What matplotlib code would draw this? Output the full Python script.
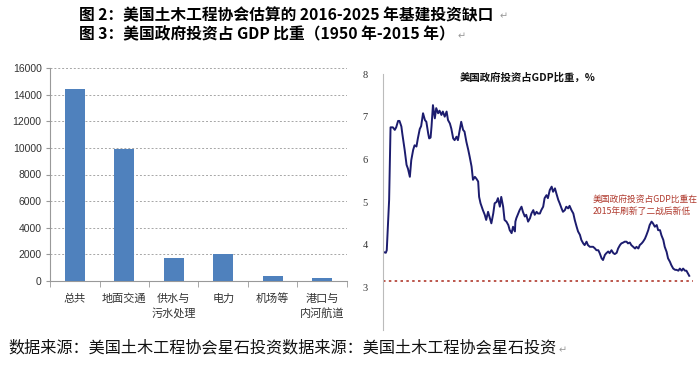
import matplotlib
matplotlib.use('Agg')
import matplotlib.pyplot as plt
import numpy as np

plt.rcParams['font.family'] = ['Noto Sans CJK SC', 'DejaVu Sans']

# ---- left chart: infrastructure gap ----
categories = ['总共', '地面交通', '供水与\n污水处理', '电力', '机场等', '港口与\n内河航道']
gap_values = [14400, 9950, 1750, 2000, 400, 200]
y_ticks_left = [0, 2000, 4000, 6000, 8000, 10000, 12000, 14000, 16000]

# ---- right chart: gov investment share of GDP ----
years = [1950.0, 1950.6, 1950.8, 1951.3, 1951.6, 1952.1, 1952.5, 1952.8, 1953.2, 1953.5,
         1953.9, 1954.1, 1954.6, 1955.0, 1955.3, 1955.7, 1956.0, 1956.4, 1956.7, 1957.1,
         1957.4, 1957.8, 1958.1, 1958.5, 1958.9, 1959.2, 1959.6, 1959.8, 1960.1, 1960.3,
         1960.6, 1961.0, 1961.3, 1961.7, 1962.0, 1962.4, 1962.7, 1963.1, 1963.5, 1963.8,
         1964.2, 1964.5, 1964.9, 1965.2, 1965.6, 1965.9, 1966.3, 1966.6, 1967.0, 1967.3,
         1967.7, 1968.1, 1968.4, 1968.8, 1969.1, 1969.5, 1969.8, 1970.2, 1970.4, 1970.7,
         1971.2, 1971.6, 1971.9, 1972.3, 1972.7, 1973.0, 1973.4, 1973.7, 1974.1, 1974.4,
         1974.8, 1975.1, 1975.5, 1975.8, 1976.2, 1976.6, 1976.9, 1977.3, 1977.6, 1978.0,
         1978.1, 1978.3, 1978.7, 1979.0, 1979.4, 1979.7, 1980.1, 1980.4, 1980.8, 1981.2,
         1981.5, 1981.9, 1982.2, 1982.6, 1982.9, 1983.3, 1983.6, 1984.0, 1984.3, 1984.7,
         1985.0, 1985.4, 1985.8, 1986.1, 1986.5, 1986.8, 1987.2, 1987.5, 1987.9, 1988.2,
         1988.6, 1988.9, 1989.3, 1989.6, 1990.0, 1990.4, 1990.7, 1991.1, 1991.4, 1991.8,
         1992.1, 1992.5, 1992.8, 1993.2, 1993.5, 1993.9, 1994.2, 1994.6, 1995.0, 1995.3,
         1995.7, 1996.0, 1996.4, 1996.7, 1997.1, 1997.4, 1997.8, 1998.1, 1998.5, 1998.9,
         1999.2, 1999.6, 1999.9, 2000.3, 2000.6, 2001.0, 2001.3, 2001.7, 2002.0, 2002.4,
         2002.7, 2003.1, 2003.5, 2003.8, 2004.2, 2004.5, 2004.9, 2005.2, 2005.6, 2005.9,
         2006.3, 2006.6, 2007.0, 2007.3, 2007.7, 2008.1, 2008.4, 2008.8, 2009.1, 2009.5,
         2009.8, 2010.2, 2010.5, 2010.9, 2011.2, 2011.6, 2012.0, 2012.3, 2012.7, 2013.0,
         2013.4, 2013.7, 2014.1, 2014.4, 2014.6, 2015.0]
share = [3.83, 3.81, 3.87, 5.05, 6.75, 6.75, 6.69, 6.75, 6.90, 6.90,
         6.77, 6.60, 6.22, 5.87, 5.78, 5.59, 5.98, 6.22, 6.33, 6.30,
         6.49, 6.71, 6.78, 7.08, 6.92, 6.88, 6.60, 6.49, 6.51, 6.77,
         7.27, 6.96, 7.20, 7.08, 7.14, 7.04, 7.12, 7.00, 7.12, 6.92,
         6.84, 6.72, 6.49, 6.45, 6.53, 6.45, 6.69, 6.88, 6.69, 6.65,
         6.41, 6.22, 6.06, 5.83, 5.52, 5.59, 5.55, 5.48, 5.12, 4.97,
         4.81, 4.70, 4.58, 4.77, 4.62, 4.50, 4.73, 4.97, 5.00, 5.09,
         4.89, 5.12, 4.89, 4.58, 4.54, 4.46, 4.34, 4.27, 4.42, 4.31,
         4.54, 4.62, 4.73, 4.81, 4.89, 4.77, 4.66, 4.70, 4.54, 4.62,
         4.73, 4.81, 4.70, 4.77, 4.73, 4.73, 4.81, 4.89, 5.09, 5.16,
         5.09, 5.28, 5.36, 5.24, 5.32, 5.20, 5.05, 4.97, 4.85, 4.77,
         4.81, 4.89, 4.85, 4.91, 4.81, 4.73, 4.58, 4.42, 4.31, 4.23,
         4.11, 4.03, 3.99, 4.07, 3.99, 3.95, 3.95, 3.95, 3.91, 3.87,
         3.87, 3.80, 3.68, 3.64, 3.76, 3.80, 3.84, 3.80, 3.87, 3.80,
         3.78, 3.81, 3.91, 3.99, 4.03, 4.05, 4.07, 4.07, 4.03, 4.05,
         3.99, 3.95, 3.91, 3.95, 3.91, 3.99, 4.03, 4.07, 4.14, 4.22,
         4.34, 4.46, 4.54, 4.50, 4.42, 4.46, 4.34, 4.34, 4.22, 4.11,
         3.95, 3.83, 3.68, 3.60, 3.52, 3.44, 3.41, 3.41, 3.39, 3.44,
         3.39, 3.44, 3.39, 3.39, 3.35, 3.27]
low_line = 3.15
y_ticks_right = [3, 4, 5, 6, 7, 8]

W, H = 700, 367
fig = plt.figure(figsize=(7, 3.67), dpi=100)

def box(x0, y0, x1, y1):
    return [x0 / W, 1 - y1 / H, (x1 - x0) / W, (y1 - y0) / H]

# left bar chart
ax = fig.add_axes(box(50, 68, 347, 281))
x = np.arange(len(categories))
ax.bar(x, gap_values, width=0.4, color='#4F81BD', zorder=3)
ax.set_xlim(-0.5, len(categories) - 0.5)
ax.set_ylim(0, 16000)
ax.set_yticks(y_ticks_left)
ax.set_yticklabels([str(v) for v in y_ticks_left], family=['Liberation Sans', 'DejaVu Sans'], fontsize=7.5, color='#333333')
ax.set_xticks(x)
ax.set_xticklabels(categories, fontsize=8, color='#333333', linespacing=1.5, va='top')
ax.set_xticks(np.arange(len(categories) + 1) - 0.5, minor=True)
ax.tick_params(axis='x', which='major', length=0, pad=9)
ax.tick_params(axis='x', which='minor', length=4, color='#999999')
ax.tick_params(axis='y', length=3, color='#999999', pad=3)
ax.yaxis.grid(True, color='#A6A6A6', linestyle=(0, (2, 2)), linewidth=0.7, zorder=0)
for s in ['top', 'right']:
    ax.spines[s].set_visible(False)
ax.spines['left'].set_color('#999999')
ax.spines['bottom'].set_color('#999999')

# right line chart
ax2 = fig.add_axes(box(383, 74, 693, 330))
ax2.plot(years, share, color='#1C1C6E', linewidth=1.4)
ax2.axhline(low_line, color='#B03A2E', linestyle=(0, (1.5, 2)), linewidth=1.2)
ax2.set_xlim(1950, 2015.8)
ax2.set_ylim(2, 8)
ax2.set_yticks(y_ticks_right)
ax2.set_yticklabels([str(v) for v in y_ticks_right], family=['Liberation Serif'], fontsize=7.5, color='#333333')
ax2.set_xticks([])
ax2.tick_params(axis='y', length=0, pad=11)
for s in ['top', 'right', 'bottom']:
    ax2.spines[s].set_visible(False)
ax2.spines['left'].set_color('#BBBBBB')
ax2.text(0.465, 0.985, '美国政府投资占GDP比重，%', transform=ax2.transAxes, ha='center', va='center',
         fontsize=7.5, fontweight='bold', color='#111111')
ax2.text(1994.4, 4.92, '美国政府投资占GDP比重在\n2015年刷新了二战后新低', ha='left', va='center',
         fontsize=6.3, color='#B03A2E', linespacing=1.5)

# header and source lines
fig.text(79 / W, 1 - 15 / H, '图 2：美国土木工程协会估算的 2016-2025 年基建投资缺口', fontsize=11.3,
         fontweight='bold', va='center', ha='left')
fig.text(500 / W, 1 - 16 / H, '↵', fontsize=7, color='#999999', va='center', ha='left')
fig.text(79 / W, 1 - 34 / H, '图 3：美国政府投资占 GDP 比重（1950 年-2015 年）', fontsize=11.3,
         fontweight='bold', va='center', ha='left')
fig.text(458 / W, 1 - 36 / H, '↵', fontsize=7, color='#999999', va='center', ha='left')
fig.text(8 / W, 1 - 348 / H, '数据来源：美国土木工程协会星石投资数据来源：美国土木工程协会星石投资',
         fontsize=11.6, va='center', ha='left', color='#111111')
fig.text(559 / W, 1 - 350 / H, '↵', fontsize=7, color='#999999', va='center', ha='left')

fig.savefig('out.png', dpi=100, facecolor='white')
